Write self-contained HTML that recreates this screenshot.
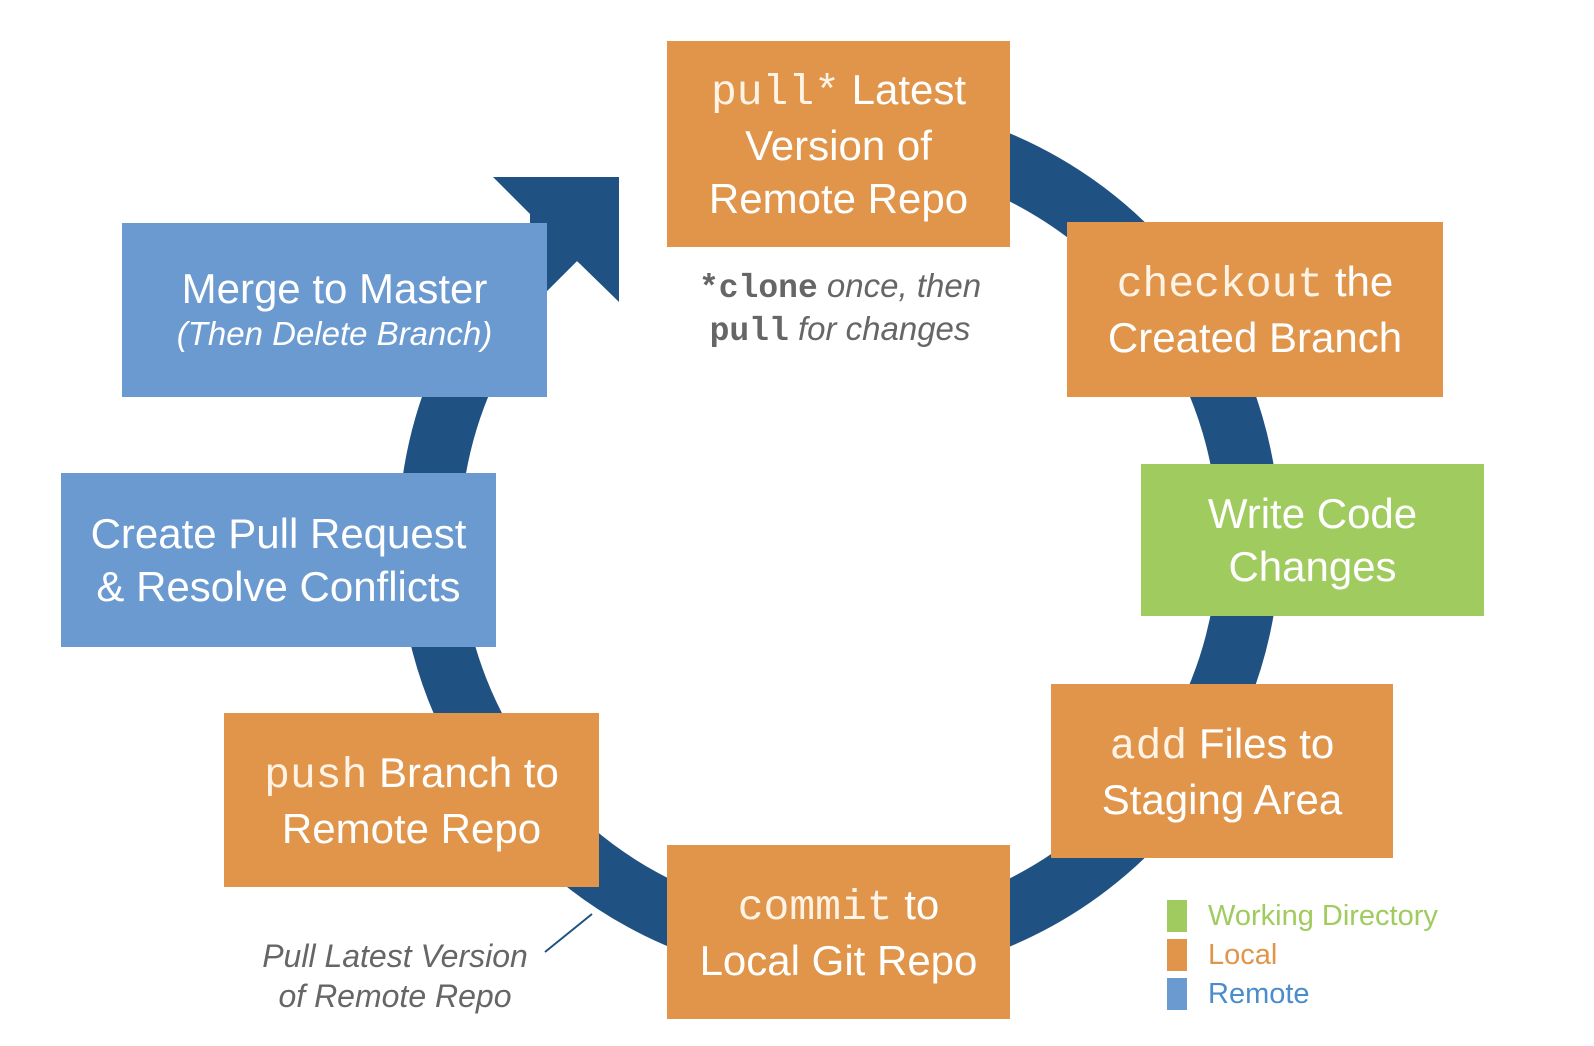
<!DOCTYPE html>
<html><head><meta charset="utf-8"><style>
body{margin:0;width:1594px;height:1046px;background:#fff;position:relative;overflow:hidden;font-family:"Liberation Sans",sans-serif}
svg{position:absolute;left:0;top:0}
.b{position:absolute;display:flex;flex-direction:column;justify-content:center;align-items:center;color:#fff;font-size:42px;line-height:53px;text-align:center;white-space:nowrap}
.o{background:#e0954a}.g{background:#a0cb5e}.u{background:#6a9ad0}
.m{font-family:"Liberation Mono",monospace;font-size:43px;color:#fff3e6}
.t{position:absolute;color:#666;font-style:italic;font-size:32px;text-align:center;white-space:nowrap}
.cm{font-family:"Liberation Mono",monospace;font-weight:bold;font-style:normal;color:#666}
.lg{position:absolute;width:20px;height:32px;left:1167px}
.lt{position:absolute;left:1208px;font-size:29px}
</style></head><body>
<svg width="1594" height="1046">
<path d="M767.8,136.2 A410,410 0 1 1 564.7,235.3" fill="none" stroke="#1f5283" stroke-width="62"/>
<polygon points="577,261 640,324 560,400 470,370 500,338" fill="#fff"/>
<polygon points="493,177 619,177 619,302 577,261 530,308 530,214" fill="#1f5283"/>
<line x1="545" y1="952" x2="592" y2="914" stroke="#1f5283" stroke-width="2"/>
</svg>
<div class="b o" style="left:667px;top:41px;width:343px;height:206px"><div><span class="m">pull*</span> Latest</div><div>Version of</div><div>Remote Repo</div></div>
<div class="t" style="left:660px;top:266px;width:360px;line-height:40px;font-size:33px"><span class="cm">*clone</span> once, then<br><span class="cm">pull</span> for changes</div>
<div class="b o" style="left:1067px;top:222px;width:376px;height:175px"><div><span class="m">checkout</span> the</div><div>Created Branch</div></div>
<div class="b g" style="left:1141px;top:464px;width:343px;height:152px"><div>Write Code</div><div>Changes</div></div>
<div class="b o" style="left:1051px;top:684px;width:342px;height:174px"><div><span class="m">add</span> Files to</div><div>Staging Area</div></div>
<div class="b o" style="left:667px;top:845px;width:343px;height:174px"><div><span class="m">commit</span> to</div><div>Local Git Repo</div></div>
<div class="b o" style="left:224px;top:713px;width:375px;height:174px"><div><span class="m">push</span> Branch to</div><div>Remote Repo</div></div>
<div class="b u" style="left:61px;top:473px;width:435px;height:174px"><div>Create Pull Request</div><div>&amp; Resolve Conflicts</div></div>
<div class="b u" style="left:122px;top:223px;width:425px;height:174px"><div style="line-height:48px">Merge to Master</div><div style="font-size:33px;font-style:italic;line-height:42px">(Then Delete Branch)</div></div>
<div class="t" style="left:215px;top:936px;width:360px;line-height:40px">Pull Latest Version<br>of Remote Repo</div>
<div class="lg" style="top:900px;background:#a0cb5e"></div>
<div class="lg" style="top:939px;background:#e0954a"></div>
<div class="lg" style="top:978px;background:#6a9ad0"></div>
<div class="lt" style="top:900px;color:#a0cb5e">Working Directory</div>
<div class="lt" style="top:939px;color:#e0954a">Local</div>
<div class="lt" style="top:978px;color:#4a8ccc">Remote</div>
</body></html>
